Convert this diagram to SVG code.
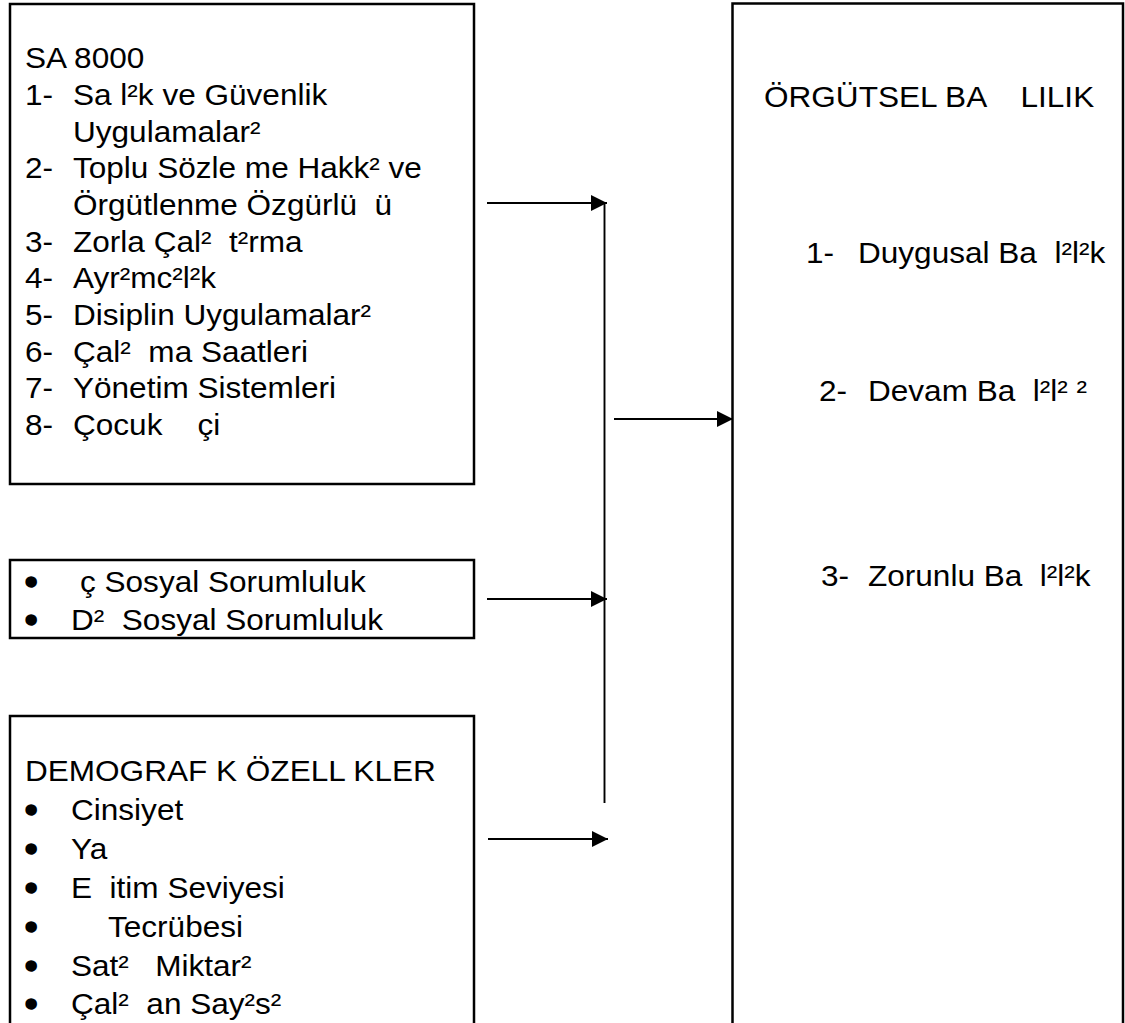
<svg xmlns="http://www.w3.org/2000/svg" width="1125" height="1023" viewBox="0 0 1125 1023" xml:space="preserve">
<style>
  .box { fill: #ffffff; stroke: #000000; stroke-width: 2.5; }
  .t { font-family: "Liberation Sans", Arial, sans-serif; font-size: 29.5px; fill: #000000; white-space: pre; transform-box: fill-box; transform-origin: 0% 50%; transform: scaleX(1.07); }
  .b { font-family: "Liberation Sans", Arial, sans-serif; font-size: 29.5px; fill: #000000; stroke: #000000; stroke-width: 3.6; stroke-linejoin: round; }
  .conn { stroke: #000000; stroke-width: 1.9; fill: none; }
  .arr { marker-end: url(#ah); }
</style>
<defs>
  <marker id="ah" markerUnits="userSpaceOnUse" markerWidth="20" markerHeight="20" refX="16" refY="8" orient="auto" overflow="visible">
    <path d="M0,0 L16,8 L0,16 Z" fill="#000000"/>
  </marker>
</defs>
<rect width="1125" height="1023" fill="#ffffff"/>

<g id="sa8000">
  <rect class="box" x="10" y="4" width="464" height="480"/>
  <text class="t" x="25" y="68">SA 8000</text>
  <text class="t" x="25" y="105">1-</text>
  <text class="t" x="73" y="105">Sa l²k ve Güvenlik</text>
  <text class="t" x="73" y="142">Uygulamalar²</text>
  <text class="t" x="25" y="178">2-</text>
  <text class="t" x="73" y="178">Toplu Sözle me Hakk² ve</text>
  <text class="t" x="73" y="215">Örgütlenme Özgürlü  ü</text>
  <text class="t" x="25" y="252">3-</text>
  <text class="t" x="73" y="252">Zorla Çal²  t²rma</text>
  <text class="t" x="25" y="288">4-</text>
  <text class="t" x="73" y="288">Ayr²mc²l²k</text>
  <text class="t" x="25" y="325">5-</text>
  <text class="t" x="73" y="325">Disiplin Uygulamalar²</text>
  <text class="t" x="25" y="362">6-</text>
  <text class="t" x="73" y="362">Çal²  ma Saatleri</text>
  <text class="t" x="25" y="398">7-</text>
  <text class="t" x="73" y="398">Yönetim Sistemleri</text>
  <text class="t" x="25" y="435">8-</text>
  <text class="t" x="73" y="435">Çocuk    çi</text>
</g>

<g id="sosyal">
  <rect class="box" x="10" y="560" width="464" height="78"/>
  <text class="b" x="26" y="592">•</text>
  <text class="t" x="80" y="592">ç Sosyal Sorumluluk</text>
  <text class="b" x="26" y="630">•</text>
  <text class="t" x="71" y="630">D²  Sosyal Sorumluluk</text>
</g>

<g id="demografik">
  <rect class="box" x="10" y="716" width="464" height="330"/>
  <text class="t" x="25" y="781">DEMOGRAF K ÖZELL KLER</text>
  <text class="b" x="26" y="820">•</text>
  <text class="t" x="71" y="820">Cinsiyet</text>
  <text class="b" x="26" y="859">•</text>
  <text class="t" x="71" y="859">Ya</text>
  <text class="b" x="26" y="898">•</text>
  <text class="t" x="71" y="898">E  itim Seviyesi</text>
  <text class="b" x="26" y="937">•</text>
  <text class="t" x="108" y="937">Tecrübesi</text>
  <text class="b" x="26" y="976">•</text>
  <text class="t" x="71" y="976">Sat²   Miktar²</text>
  <text class="b" x="26" y="1014">•</text>
  <text class="t" x="71" y="1014">Çal²  an Say²s²</text>
</g>

<g id="bagliliik">
  <rect class="box" x="732.5" y="3.5" width="390.5" height="1040"/>
  <text class="t" x="764" y="107">ÖRGÜTSEL BA    LILIK</text>
  <text class="t" x="806" y="263">1-</text>
  <text class="t" x="858" y="263">Duygusal Ba  l²l²k</text>
  <text class="t" x="819" y="401">2-</text>
  <text class="t" x="868" y="401">Devam Ba  l²l² ²</text>
  <text class="t" x="821" y="586">3-</text>
  <text class="t" x="868" y="586">Zorunlu Ba  l²l²k</text>
</g>

<g id="connectors">
  <line class="conn arr" x1="487" y1="203" x2="607" y2="203"/>
  <line class="conn" x1="604.5" y1="203" x2="604.5" y2="803"/>
  <line class="conn arr" x1="614" y1="419" x2="733" y2="419"/>
  <line class="conn arr" x1="487" y1="599" x2="607" y2="599"/>
  <line class="conn arr" x1="488" y1="839" x2="608" y2="839"/>
</g>
</svg>
